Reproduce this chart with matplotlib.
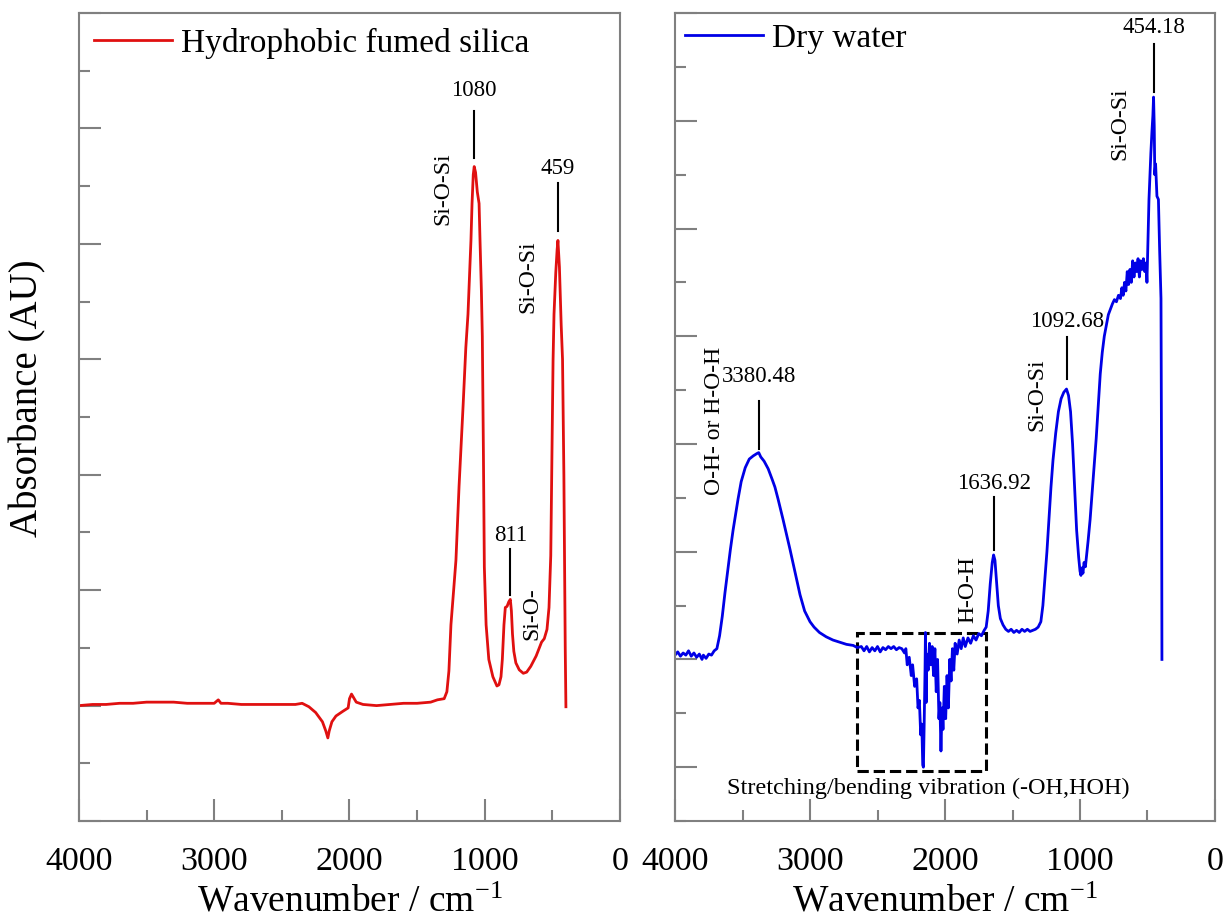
import matplotlib.pyplot as plt
from matplotlib.patches import Rectangle
from matplotlib.ticker import MultipleLocator

plt.rcParams['font.family'] = 'Liberation Serif'
plt.rcParams['mathtext.fontset'] = 'custom'
plt.rcParams['mathtext.rm'] = 'Liberation Serif'
plt.rcParams['mathtext.it'] = 'Liberation Serif:italic'

# FTIR spectrum of the hydrophobic fumed silica (wavenumber cm-1, absorbance AU)
silica_wn = [4000, 3900, 3800, 3700, 3600, 3500, 3400, 3300, 3200, 3100, 3000, 2970, 2950,
             2900, 2800, 2700, 2600, 2500, 2400, 2350, 2300, 2250, 2200, 2175, 2160, 2150,
             2130, 2100, 2050, 2010, 2000, 1985, 1970, 1950, 1900, 1800, 1700, 1600, 1500,
             1400, 1350, 1300, 1280, 1265, 1250, 1230, 1213, 1190, 1160, 1140, 1124, 1110,
             1102, 1094, 1085, 1078, 1068, 1055, 1042, 1035, 1025, 1018, 1010, 1003, 990,
             970, 940, 910, 895, 880, 870, 858, 848, 835, 822, 811, 803, 795, 785, 770, 745,
             715, 690, 660, 620, 580, 560, 540, 525, 512, 503, 495, 488, 475, 465, 459, 448,
             435, 425, 415, 405, 400]
silica_abs = [1.00, 1.01, 1.01, 1.02, 1.02, 1.03, 1.03, 1.03, 1.02, 1.02, 1.02, 1.05, 1.02,
              1.02, 1.01, 1.01, 1.01, 1.01, 1.01, 1.02, 0.99, 0.94, 0.86, 0.78, 0.72, 0.78,
              0.86, 0.91, 0.95, 0.98, 1.06, 1.10, 1.07, 1.03, 1.01, 1.00, 1.01, 1.02, 1.02,
              1.03, 1.05, 1.06, 1.12, 1.30, 1.70, 2.00, 2.26, 2.90, 3.60, 4.10, 4.39, 4.80,
              5.03, 5.35, 5.60, 5.67, 5.62, 5.45, 5.35, 5.03, 4.60, 4.20, 3.20, 2.20, 1.70,
              1.40, 1.25, 1.17, 1.18, 1.25, 1.40, 1.70, 1.85, 1.86, 1.90, 1.92, 1.82, 1.62,
              1.47, 1.37, 1.31, 1.28, 1.29, 1.34, 1.43, 1.55, 1.58, 1.66, 1.85, 2.30, 3.20,
              3.99, 4.39, 4.75, 4.95, 5.03, 4.80, 4.30, 4.00, 3.00, 1.50, 0.99]

# FTIR spectrum of the dry water powder
water_wn = [4000, 3980, 3960, 3940, 3920, 3900, 3880, 3860, 3840, 3820, 3800, 3790, 3770,
            3750, 3730, 3710, 3690, 3670, 3650, 3630, 3610, 3590, 3570, 3550, 3533, 3510,
            3480, 3450, 3420, 3395, 3380, 3365, 3340, 3310, 3280, 3260, 3237, 3200, 3170,
            3148, 3120, 3100, 3074, 3040, 3000, 2970, 2930, 2880, 2830, 2780, 2730, 2680,
            2650, 2620, 2600, 2580, 2560, 2540, 2520, 2500, 2480, 2460, 2440, 2420, 2400,
            2380, 2360, 2340, 2320, 2300, 2290, 2280, 2265, 2250, 2240, 2225, 2210, 2200,
            2190, 2180, 2172, 2165, 2160, 2155, 2148, 2145, 2140, 2135, 2125, 2115, 2105,
            2095, 2085, 2075, 2065, 2055, 2045, 2038, 2030, 2022, 2015, 2005, 1995, 1985,
            1975, 1965, 1955, 1945, 1935, 1925, 1910, 1895, 1880, 1865, 1850, 1830, 1810,
            1790, 1770, 1750, 1730, 1710, 1695, 1680, 1665, 1650, 1640, 1630, 1620, 1605,
            1590, 1570, 1550, 1530, 1510, 1490, 1470, 1450, 1430, 1410, 1390, 1370, 1350,
            1330, 1310, 1290, 1275, 1260, 1245, 1230, 1215, 1200, 1180, 1160, 1140, 1120,
            1100, 1085, 1070, 1055, 1040, 1025, 1010, 1000, 993, 985, 978, 970, 960, 950,
            940, 925, 910, 895, 880, 865, 850, 835, 820, 805, 790, 775, 760, 745, 730, 715,
            700, 690, 680, 670, 660, 650, 640, 630, 620, 610, 600, 590, 580, 570, 560, 550,
            540, 530, 520, 510, 504, 489, 475, 467, 460, 455, 450, 446, 440, 430, 419, 410,
            400, 395, 393]
water_abs = [1.04, 1.07, 1.03, 1.06, 1.04, 1.08, 1.03, 1.06, 1.02, 1.05, 1.00, 1.04, 1.01,
             1.05, 1.04, 1.08, 1.10, 1.22, 1.40, 1.62, 1.82, 2.02, 2.20, 2.36, 2.49, 2.65,
             2.78, 2.86, 2.89, 2.91, 2.92, 2.88, 2.84, 2.77, 2.67, 2.60, 2.49, 2.30, 2.14,
             2.02, 1.86, 1.75, 1.60, 1.45, 1.35, 1.30, 1.25, 1.21, 1.18, 1.16, 1.14, 1.13,
             1.11, 1.12, 1.08, 1.12, 1.07, 1.11, 1.08, 1.12, 1.07, 1.11, 1.09, 1.12, 1.10,
             1.12, 1.09, 1.11, 1.10, 1.06, 1.10, 0.95, 1.02, 0.85, 0.95, 0.75, 0.82, 0.55,
             0.62, 0.30, 0.40, 0.02, 0.00, 0.35, 0.90, 1.25, 0.60, 1.05, 0.90, 1.15, 0.95,
             1.12, 0.85, 1.10, 0.70, 1.00, 0.45, 0.60, 0.15, 0.55, 0.35, 0.75, 0.45, 0.85,
             0.55, 1.00, 0.80, 1.10, 0.90, 1.15, 1.05, 1.18, 1.10, 1.20, 1.12, 1.20, 1.15,
             1.22, 1.18, 1.24, 1.22, 1.27, 1.30, 1.45, 1.70, 1.90, 1.97, 1.92, 1.75, 1.50,
             1.38, 1.32, 1.28, 1.26, 1.28, 1.25, 1.27, 1.25, 1.28, 1.26, 1.28, 1.26, 1.27,
             1.28, 1.30, 1.35, 1.50, 1.75, 2.00, 2.30, 2.60, 2.85, 3.10, 3.30, 3.42, 3.48,
             3.51, 3.45, 3.30, 3.00, 2.60, 2.20, 1.95, 1.82, 1.78, 1.85, 1.80, 1.90, 1.86, 1.98,
             2.10, 2.30, 2.55, 2.80, 3.05, 3.35, 3.65, 3.85, 4.00, 4.10, 4.20, 4.25, 4.30,
             4.34, 4.32, 4.38, 4.35, 4.45, 4.38, 4.50, 4.42, 4.60, 4.48, 4.62, 4.50, 4.70,
             4.55, 4.68, 4.60, 4.72, 4.55, 4.70, 4.62, 4.72, 4.60, 4.68, 4.50, 5.27, 5.70,
             5.90, 6.05, 6.22, 5.95, 5.50, 5.60, 5.30, 5.27, 4.80, 4.35, 2.50, 1.00]

# peak labels: (wavenumber, label, text height, leader line bottom, leader line top)
silica_peaks = [(1080, '1080', 6.33, 5.74, 6.15),
                (459, '459', 5.65, 5.11, 5.53),
                (811, '811', 2.47, 1.96, 2.36)]
water_peaks = [(454.18, '454.18', 6.87, 6.27, 6.71),
               (1092.68, '1092.68', 4.14, 3.60, 3.99),
               (3380.48, '3380.48', 3.63, 2.95, 3.40),
               (1636.92, '1636.92', 2.63, 2.02, 2.51)]

# band assignments written vertically next to the peaks
silica_bands = [(1309, 5.48, 'Si-O-Si'), (680, 4.72, 'Si-O-Si'), (650, 1.80, 'Si-O-')]
water_bands = [(3704, 3.21, 'O-H- or H-O-H'), (1319, 3.46, 'Si-O-Si'),
               (704, 5.97, 'Si-O-Si'), (1830, 1.65, 'H-O-H')]

fig = plt.figure(figsize=(12.28, 9.19), dpi=100)
ax1 = fig.add_axes([0.0643, 0.1066, 0.4406, 0.8792])
ax2 = fig.add_axes([0.5497, 0.1066, 0.4397, 0.8792])

grey = '#808080'


def style_axes(ax, ymin):
    ax.set_xlim(4000, 0)
    ax.set_ylim(ymin, 7)
    ax.xaxis.set_major_locator(MultipleLocator(1000))
    ax.xaxis.set_minor_locator(MultipleLocator(500))
    ax.yaxis.set_major_locator(MultipleLocator(1))
    ax.yaxis.set_minor_locator(MultipleLocator(0.5))
    ax.tick_params(which='both', direction='in', color=grey, width=1.5,
                   top=False, right=False, labelleft=False)
    ax.tick_params(which='major', length=16, labelsize=24.5, pad=18)
    ax.tick_params(which='minor', length=8)
    for s in ax.spines.values():
        s.set_color(grey)
        s.set_linewidth(1.5)
    ax.set_xlabel('Wavenumber / cm$^{-1}$', fontsize=27, labelpad=6)


def label_peaks(ax, peaks, bands):
    for wn, txt, ty, y0, y1 in peaks:
        ax.plot([wn, wn], [y0, y1], color='black', lw=1.5)
        ax.text(wn, ty, txt, ha='center', va='center', fontsize=16.5)
    for wn, y, txt in bands:
        ax.text(wn, y, txt, rotation=90, ha='center', va='center', fontsize=17)


ax1.plot(silica_wn, silica_abs, color='#e01010', lw=2.0, label='Hydrophobic fumed silica')
style_axes(ax1, 0)
label_peaks(ax1, silica_peaks, silica_bands)
ax1.legend(loc='upper left', frameon=False, fontsize=24, handlelength=2.35,
           handletextpad=0.25, borderaxespad=0.0, borderpad=0.45)

ax2.plot(water_wn, water_abs, color='#0000e6', lw=2.0, label='Dry water')
style_axes(ax2, -0.5)
label_peaks(ax2, water_peaks, water_bands)
ax2.legend(loc='upper left', frameon=False, fontsize=24, handlelength=2.35,
           handletextpad=0.25, borderaxespad=0.0, borderpad=0.3)

# dashed box around the O-H stretching / bending region
ax2.add_patch(Rectangle((2652, -0.04), 1696 - 2652, 1.29, fill=False,
                        ls='--', lw=2.2, ec='black'))
ax2.text(2126, -0.2, 'Stretching/bending vibration (-OH,HOH)', ha='center',
         va='center', fontsize=17.5)

fig.text(0.0228, 1 - 398 / 919, 'Absorbance (AU)', rotation=90, ha='center',
         va='center', fontsize=28)

fig.savefig('out.png', dpi=100)
